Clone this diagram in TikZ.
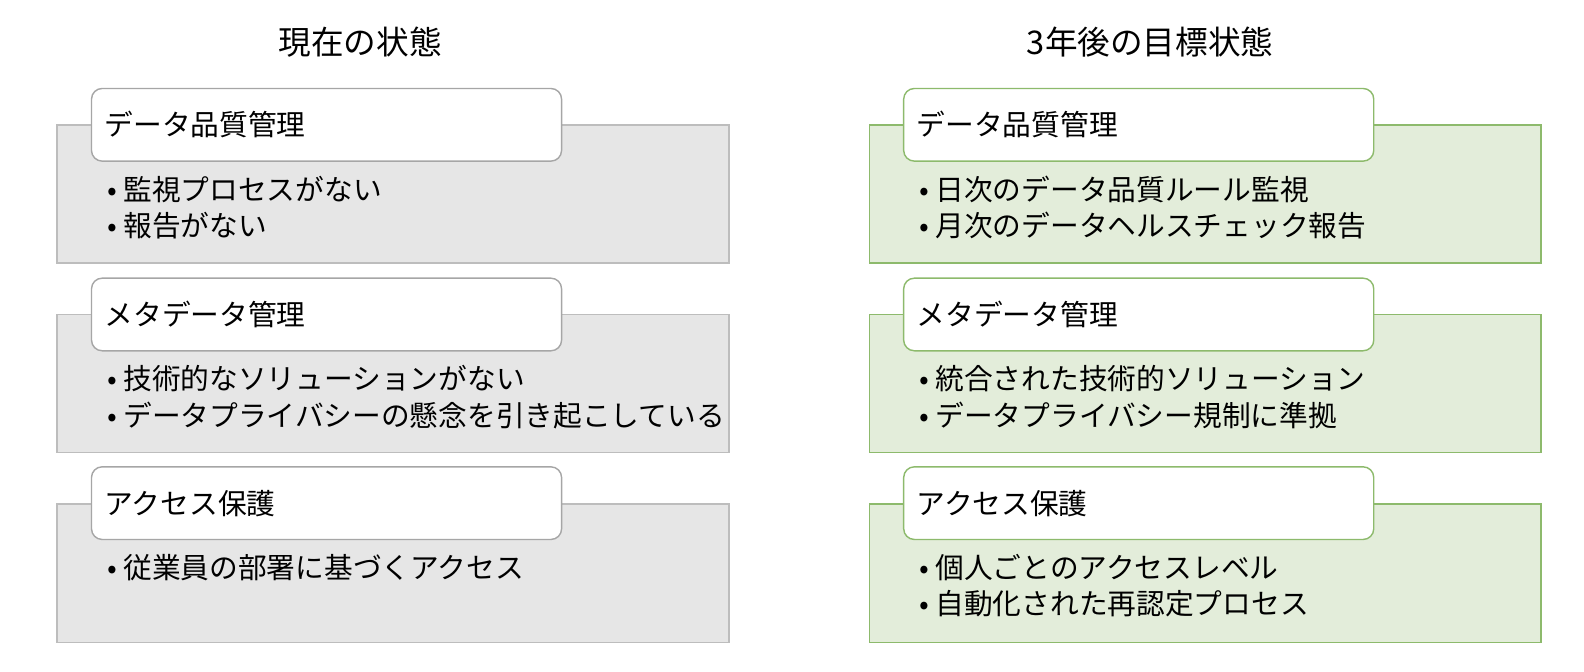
\documentclass[tikz,border=0pt]{standalone}
\usepackage{fontspec}
\setmainfont{Noto Sans CJK JP}
\usetikzlibrary{positioning}
\definecolor{grayfill}{HTML}{E6E6E6}
\definecolor{grayline}{HTML}{BDBDBD}
\definecolor{grayhead}{HTML}{A6A6A6}
\definecolor{greenfill}{HTML}{E3EDDA}
\definecolor{greenline}{HTML}{8DBA6C}
\colorlet{greenhead}{greenline}
\tikzset{
  panel/.style = {draw=#1line, fill=#1fill, line width=0.8pt, minimum width=13.32cm, minimum height=2.74cm, anchor=north west},
  head/.style = {draw=#1head, fill=white, rounded corners=6pt, line width=0.8pt, minimum width=9.32cm, minimum height=1.44cm, anchor=north west, align=left, text width=8.8cm, font=\fontsize{16.2}{19}\selectfont},
  items/.style = {anchor=north west, align=left, font=\fontsize{16.2}{20.5}\selectfont},
  title/.style = {font=\fontsize{18.4}{22}\selectfont}
}
\begin{document}
\begin{tikzpicture}[x=0.02cm, y=-0.02cm]
  \useasboundingbox (0,0) rectangle (1570,666);
  \node[title] (tl) at (357,42) {現在の状態};
  \node[title] (tr) at (1140,42) {3年後の目標状態};
  % left column
  \node[panel=gray] (l1) at (56,123) {};
  \node[head=gray] (hl1) at (90,87) {データ品質管理};
  \node[items] (il1) at (100,168) {• 監視プロセスがない\\• 報告がない};
  \node[panel=gray] (l2) at (56,311) {};
  \node[head=gray] (hl2) at (90,275) {メタデータ管理};
  \node[items] (il2) at (100,356) {• 技術的なソリューションがない\\• データプライバシーの懸念を引き起こしている};
  \node[panel=gray] (l3) at (56,499) {};
  \node[head=gray] (hl3) at (90,462) {アクセス保護};
  \node[items] (il3) at (100,543) {• 従業員の部署に基づくアクセス};
  % right column
  \node[panel=green] (r1) at (861,123) {};
  \node[head=green] (hr1) at (895,87) {データ品質管理};
  \node[items] (ir1) at (905,168) {• 日次のデータ品質ルール監視\\• 月次のデータヘルスチェック報告};
  \node[panel=green] (r2) at (861,311) {};
  \node[head=green] (hr2) at (895,275) {メタデータ管理};
  \node[items] (ir2) at (905,356) {• 統合された技術的ソリューション\\• データプライバシー規制に準拠};
  \node[panel=green] (r3) at (861,499) {};
  \node[head=green] (hr3) at (895,462) {アクセス保護};
  \node[items] (ir3) at (905,543) {• 個人ごとのアクセスレベル\\• 自動化された再認定プロセス};
\end{tikzpicture}
\end{document}
